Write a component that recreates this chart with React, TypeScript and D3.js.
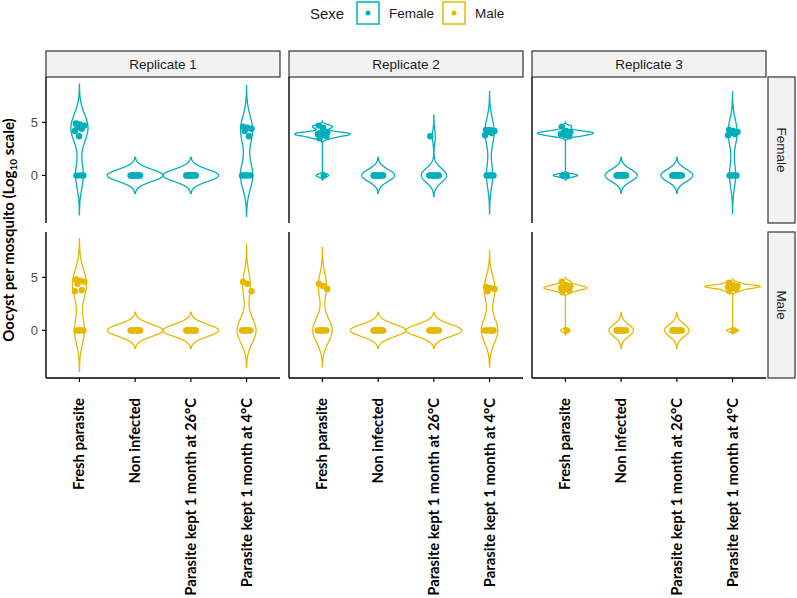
import React, { useEffect, useRef } from 'react';
import * as d3 from 'd3';

const replicates = ['Replicate 1', 'Replicate 2', 'Replicate 3'];
const sexes = ['Female', 'Male'];
const treatments = [
  'Fresh parasite',
  'Non infected',
  'Parasite kept 1 month at 26°C',
  'Parasite kept 1 month at 4°C',
];
const sexColors = ['#00AFBB', '#E7B800'];
const yTicks = [0, 5];

// log10 oocyst count per mosquito, one array per treatment (same order as `treatments`)
const femaleRep1 = [
  [0, 0, 0, 3.7, 4.2, 4.4, 4.5, 4.7, 4.8, 4.9],
  [0, 0, 0, 0, 0, 0, 0, 0, 0, 0],
  [0, 0, 0, 0, 0, 0, 0, 0, 0, 0],
  [0, 0, 0, 0, 0, 3.7, 4.2, 4.4, 4.5, 4.6],
];
const femaleRep2 = [
  [0, 3.5, 3.7, 3.8, 3.9, 3.9, 4.0, 4.1, 4.5, 4.7],
  [0, 0, 0, 0, 0, 0, 0, 0, 0, 0],
  [0, 0, 0, 0, 0, 0, 0, 0, 0, 3.7],
  [0, 0, 0, 0, 3.8, 4.0, 4.1, 4.2, 4.3, 4.3],
];
const femaleRep3 = [
  [0, 0, 3.7, 3.8, 3.9, 4.0, 4.0, 4.1, 4.2, 4.6],
  [0, 0, 0, 0, 0, 0, 0, 0, 0, 0],
  [0, 0, 0, 0, 0, 0, 0, 0, 0, 0],
  [0, 0, 0, 0, 3.8, 3.9, 4.0, 4.1, 4.2, 4.3],
];
const maleRep1 = [
  [0, 0, 0, 0, 3.7, 3.8, 4.4, 4.6, 4.7, 4.8],
  [0, 0, 0, 0, 0, 0, 0, 0, 0, 0],
  [0, 0, 0, 0, 0, 0, 0, 0, 0, 0],
  [0, 0, 0, 0, 0, 0, 0, 3.7, 4.4, 4.6],
];
const maleRep2 = [
  [0, 0, 0, 0, 0, 0, 0, 3.9, 4.2, 4.4],
  [0, 0, 0, 0, 0, 0, 0, 0, 0, 0],
  [0, 0, 0, 0, 0, 0, 0, 0, 0, 0],
  [0, 0, 0, 0, 0, 0, 3.7, 3.9, 4.0, 4.1],
];
const maleRep3 = [
  [0, 3.6, 3.8, 3.9, 4.0, 4.0, 4.1, 4.2, 4.3, 4.6],
  [0, 0, 0, 0, 0, 0, 0, 0, 0, 0],
  [0, 0, 0, 0, 0, 0, 0, 0, 0, 0],
  [0, 3.7, 3.9, 4.0, 4.1, 4.1, 4.2, 4.2, 4.3, 4.5],
];

const panels = [
  [femaleRep1, femaleRep2, femaleRep3],
  [maleRep1, maleRep2, maleRep3],
];

// R's bw.nrd0
function bwNrd0(values: number[]) {
  const s = values.slice().sort(d3.ascending);
  const hi = d3.deviation(s) || 0;
  const iqr = (d3.quantileSorted(s, 0.75) as number) - (d3.quantileSorted(s, 0.25) as number);
  let lo = Math.min(hi, iqr / 1.34);
  if (!lo) lo = hi || Math.abs(s[0]) || 1;
  return 0.9 * lo * Math.pow(s.length, -0.2);
}

function density(values: number[]) {
  const bw = bwNrd0(values);
  const lo = (d3.min(values) as number) - 3 * bw;
  const hi = (d3.max(values) as number) + 3 * bw;
  const n = 256;
  return d3.range(n).map(i => {
    const y = lo + ((hi - lo) * i) / (n - 1);
    const d = (d3.mean(values, v => Math.exp(-0.5 * ((y - v) / bw) ** 2)) as number) / (bw * Math.sqrt(2 * Math.PI));
    return { y, d };
  });
}

const App: React.FC = () => {
  const svgRef = useRef<SVGSVGElement>(null);

  useEffect(() => {
    if (!svgRef.current) return;
    document.body.style.margin = '0';
    const svg = d3.select(svgRef.current);
    svg.selectAll('*').remove();

    const panelLeft = [46, 289, 532];
    const panelW = 234;
    const rowTop = [77, 232];
    const panelH = 146;
    const arial = '"Liberation Sans", Arial, sans-serif';
    const calibri = 'Lato, "Open Sans", sans-serif';

    const profiles = panels.map(row => row.map(rep => rep.map(vals => density(vals))));
    const allY = profiles.flat(3).map(p => p.y);
    const yMin = d3.min(allY) as number;
    const yMax = d3.max(allY) as number;
    const pad = (yMax - yMin) * 0.05;

    // legend
    svg.append('text')
      .attr('x', 310).attr('y', 19)
      .attr('font-family', arial).attr('font-size', 15).attr('fill', '#1A1A1A')
      .text('Sexe');
    const legendX = [357, 443];
    sexes.forEach((s, i) => {
      svg.append('rect')
        .attr('x', legendX[i]).attr('y', 2).attr('width', 22).attr('height', 22)
        .attr('fill', 'white').attr('stroke', sexColors[i]).attr('stroke-width', 1.5);
      svg.append('circle')
        .attr('cx', legendX[i] + 11).attr('cy', 13).attr('r', 2.5)
        .attr('fill', sexColors[i]);
      svg.append('text')
        .attr('x', legendX[i] + 32).attr('y', 18)
        .attr('font-family', arial).attr('font-size', 13.5).attr('fill', '#1A1A1A')
        .text(s);
    });

    // y axis title
    const yTitle = svg.append('text')
      .attr('transform', `translate(14,230) rotate(-90)`)
      .attr('text-anchor', 'middle')
      .attr('font-family', calibri).attr('font-weight', 'bold').attr('font-size', 15)
      .attr('fill', 'black');
    yTitle.append('tspan').text('Oocyst per mosquito (Log');
    yTitle.append('tspan').attr('font-size', 10).attr('dy', 3).text('10');
    yTitle.append('tspan').attr('dy', -3).text(' scale)');

    // top strips
    replicates.forEach((r, c) => {
      svg.append('rect')
        .attr('x', panelLeft[c]).attr('y', 51).attr('width', panelW).attr('height', 26)
        .attr('fill', '#F2F2F2').attr('stroke', '#333333').attr('stroke-width', 1.2);
      svg.append('text')
        .attr('x', panelLeft[c] + panelW / 2).attr('y', 69)
        .attr('text-anchor', 'middle')
        .attr('font-family', arial).attr('font-size', 13.5).attr('fill', '#1A1A1A')
        .text(r);
    });

    sexes.forEach((s, r) => {
      const y = d3.scaleLinear()
        .domain([yMin - pad, yMax + pad])
        .range([rowTop[r] + panelH, rowTop[r]]);

      // right strip
      svg.append('rect')
        .attr('x', 768).attr('y', rowTop[r]).attr('width', 27).attr('height', panelH)
        .attr('fill', '#F2F2F2').attr('stroke', '#333333').attr('stroke-width', 1.2);
      svg.append('text')
        .attr('transform', `translate(777,${rowTop[r] + panelH / 2}) rotate(90)`)
        .attr('text-anchor', 'middle')
        .attr('font-family', arial).attr('font-size', 13.5).attr('fill', '#1A1A1A')
        .text(s);

      replicates.forEach((rep, c) => {
        const x = d3.scalePoint<string>()
          .domain(treatments)
          .range([panelLeft[c], panelLeft[c] + panelW])
          .padding(0.6);
        const step = x.step();
        const g = svg.append('g');

        const prof = profiles[r][c];
        const dMax = d3.max(prof.flat(), p => p.d) as number;

        // left axis line
        g.append('line')
          .attr('x1', panelLeft[c]).attr('x2', panelLeft[c])
          .attr('y1', rowTop[r]).attr('y2', rowTop[r] + panelH)
          .attr('stroke', 'black').attr('stroke-width', 1.4);

        if (c === 0) {
          yTicks.forEach(t => {
            g.append('line')
              .attr('x1', panelLeft[c] - 4).attr('x2', panelLeft[c])
              .attr('y1', y(t)).attr('y2', y(t))
              .attr('stroke', 'black').attr('stroke-width', 1.2);
            g.append('text')
              .attr('x', panelLeft[c] - 8).attr('y', y(t) + 4.5)
              .attr('text-anchor', 'end')
              .attr('font-family', arial).attr('font-size', 13).attr('fill', '#4D4D4D')
              .text(t);
          });
        }

        if (r === 1) {
          const base = rowTop[r] + panelH;
          g.append('line')
            .attr('x1', panelLeft[c]).attr('x2', panelLeft[c] + panelW)
            .attr('y1', base).attr('y2', base)
            .attr('stroke', 'black').attr('stroke-width', 1.4);
          treatments.forEach(t => {
            const tx = x(t) as number;
            g.append('line')
              .attr('x1', tx).attr('x2', tx)
              .attr('y1', base).attr('y2', base + 4)
              .attr('stroke', 'black').attr('stroke-width', 1.2);
            g.append('text')
              .attr('transform', `translate(${tx + 5},${base + 20}) rotate(-90)`)
              .attr('text-anchor', 'end')
              .attr('font-family', calibri).attr('font-weight', 'bold').attr('font-size', 14.8)
              .attr('fill', 'black')
              .text(t);
          });
        }

        treatments.forEach((t, k) => {
          const cx = x(t) as number;
          const half = step * 0.5;
          const p = prof[k];
          const right = p.map(q => [cx + (half * q.d) / dMax, y(q.y)] as [number, number]);
          const left = p.slice().reverse().map(q => [cx - (half * q.d) / dMax, y(q.y)] as [number, number]);
          g.append('path')
            .attr('d', (d3.line()(right.concat(left)) as string) + 'Z')
            .attr('fill', 'none')
            .attr('stroke', sexColors[r])
            .attr('stroke-width', 1.3);

          const vals = panels[r][c][k];
          vals.forEach((v, i) => {
            const jitter = ((((i + 1) * 0.618034) % 1) - 0.5) * 2 * 0.1 * step;
            g.append('circle')
              .attr('cx', cx + jitter).attr('cy', y(v)).attr('r', 3.2)
              .attr('fill', sexColors[r]);
          });
        });
      });
    });
  }, []);

  return <svg ref={svgRef} width={797} height={598} style={{ display: 'block', background: 'white' }} />;
};

export default App;
